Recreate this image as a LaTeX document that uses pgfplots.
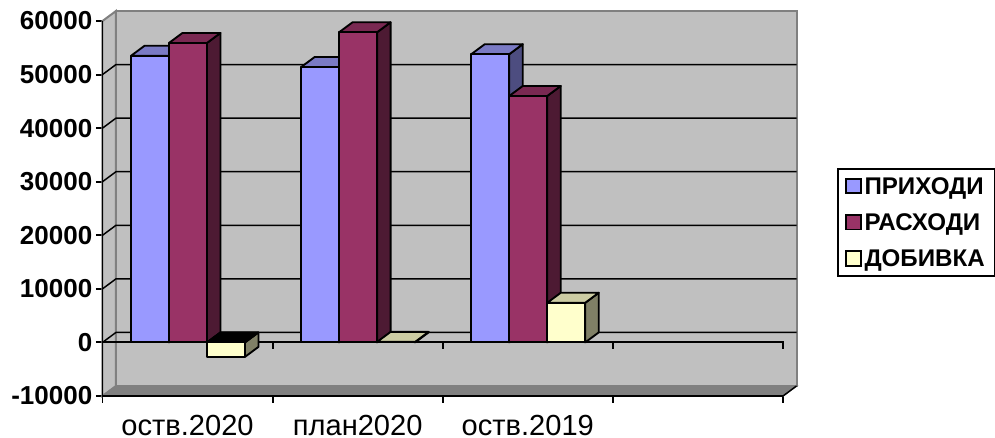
\documentclass[border=0pt]{standalone}
\usepackage{fontspec}
\setmainfont{Liberation Sans}
\usepackage{pgfplots}
\pgfplotsset{compat=1.18}

\definecolor{wallc}{HTML}{C0C0C0}
\definecolor{floorc}{HTML}{808080}
\definecolor{bluef}{HTML}{9999FF}
\definecolor{bluet}{HTML}{7A7AC4}
\definecolor{blues}{HTML}{4D4D80}
\definecolor{redf}{HTML}{993366}
\definecolor{redt}{HTML}{7A2952}
\definecolor{reds}{HTML}{4D1A33}
\definecolor{yelf}{HTML}{FFFFCC}
\definecolor{yelt}{HTML}{CCCCA3}
\definecolor{yels}{HTML}{808066}

% depth of the fake 3D box, in data units (13.5px and 10px)
\def\dx{0.0793}
\def\dy{1869}
\def\bw{0.2233}

% x of left edge, value, front colour, top colour, side colour
\newcommand{\threedbar}[5]{%
  \edef\xb{\fpeval{#1+\bw}}%
  \edef\xc{\fpeval{#1+\dx}}%
  \edef\xd{\fpeval{#1+\bw+\dx}}%
  \edef\yt{\fpeval{max(#2,0)}}%
  \edef\ytt{\fpeval{max(#2,0)+\dy}}%
  \edef\yv{\fpeval{#2+\dy}}%
  \addplot[face,fill=#5] coordinates {(\xb,#2)(\xd,\yv)(\xd,\dy)(\xb,0)} --cycle;
  \addplot[face,fill=#4] coordinates {(#1,\yt)(\xc,\ytt)(\xd,\ytt)(\xb,\yt)} --cycle;
  \addplot[face,fill=#3] coordinates {(#1,0)(#1,#2)(\xb,#2)(\xb,0)} --cycle;
}

\begin{document}
\begin{tikzpicture}[x=1pt,y=1pt]
\path[use as bounding box] (-76.875pt,-31.5pt) rectangle (669.375pt,297pt);
\begin{axis}[
  scale only axis,
  width=520.5pt,
  height=288.75pt,
  xmin=0, xmax=4.0793,
  ymin=-10000, ymax=61869,
  clip=false,
  axis line style={draw=none},
  xtick={0,1,2,3,4},
  xticklabels={оств.2020,план2020,оств.2019,},
  x tick label as interval,
  ytick={-10000,0,10000,20000,30000,40000,50000,60000},
  scaled y ticks=false,
  xtick pos=lower, ytick pos=left,
  tick align=outside,
  major tick length=5pt,
  tick style={black,line width=1.4pt},
  /pgf/number format/assume math mode=true,
  /pgf/number format/1000 sep={},
  y tick label style={font=\fontsize{19.5}{19.5}\selectfont\bfseries,inner sep=0pt,xshift=-2.5pt},
  x tick label style={font=\fontsize{21.8}{21.8}\selectfont,inner sep=0pt,yshift=-9.5pt},
  face/.style={draw=black,line width=1.4pt,line join=round,forget plot},
  legend cell align=left,
  legend style={
    at={(axis cs:4.3175,12150)},anchor=south west,
    draw=black,line width=1.4pt,fill=white,
    font=\fontsize{18.1}{18.1}\selectfont\bfseries,
    inner xsep=5.5pt,inner ysep=4pt,
    row sep=9pt,
    /tikz/every even column/.append style={column sep=6pt},
  },
  legend image code/.code={
    \draw[#1,line width=1.4pt] (0pt,-5pt) rectangle (11pt,6pt);
  },
]
  % walls and floor
  \addplot[fill=wallc,draw=floorc,line width=1.5pt,forget plot] coordinates {(0,-10000)(0,60000)(\dx,61869)(\dx,-8131)} --cycle;
  \addplot[fill=wallc,draw=floorc,line width=1.5pt,forget plot] coordinates {(\dx,-8131)(\dx,61869)(4.0793,61869)(4.0793,-8131)} --cycle;
  \addplot[fill=floorc,draw=floorc,line width=1pt,forget plot] coordinates {(0,-10000)(\dx,-8131)(4.0793,-8131)(4,-10000)} --cycle;

  % gridlines, back wall and side wall
  \addplot[black,line width=1.1pt,forget plot] coordinates {(0,10000)(\dx,11869)(4.0793,11869)};
  \addplot[black,line width=1.1pt,forget plot] coordinates {(0,20000)(\dx,21869)(4.0793,21869)};
  \addplot[black,line width=1.1pt,forget plot] coordinates {(0,30000)(\dx,31869)(4.0793,31869)};
  \addplot[black,line width=1.1pt,forget plot] coordinates {(0,40000)(\dx,41869)(4.0793,41869)};
  \addplot[black,line width=1.1pt,forget plot] coordinates {(0,50000)(\dx,51869)(4.0793,51869)};
  \addplot[black,line width=1.1pt,forget plot] coordinates {(0,0)(\dx,1869)(4.0793,1869)};
  \addplot[black,line width=1.1pt,forget plot] coordinates {(4,-10000)(4.0793,-8131)};

  % front axes
  \addplot[black,line width=1.4pt,forget plot] coordinates {(0,-10000)(0,60000)};
  \addplot[black,line width=1.4pt,forget plot] coordinates {(0,-10000)(4,-10000)};
  \addplot[black,line width=1.4pt,forget plot] coordinates {(0,0)(4,0)(4,-1300)};
  \addplot[black,line width=1.4pt,forget plot] coordinates {(1,0)(1,-1300)};
  \addplot[black,line width=1.4pt,forget plot] coordinates {(2,0)(2,-1300)};
  \addplot[black,line width=1.4pt,forget plot] coordinates {(3,0)(3,-1300)};

  % bars
  \threedbar{0.1675}{53500}{bluef}{bluet}{blues}
  \threedbar{0.3908}{55900}{redf}{redt}{reds}
  \threedbar{0.6141}{-2700}{yelf}{black}{yels}

  \threedbar{1.1675}{51400}{bluef}{bluet}{blues}
  \threedbar{1.3908}{57900}{redf}{redt}{reds}
  \threedbar{1.6141}{100}{yelf}{yelt}{yels}

  \threedbar{2.1675}{53800}{bluef}{bluet}{blues}
  \threedbar{2.3908}{46000}{redf}{redt}{reds}
  \threedbar{2.6141}{7400}{yelf}{yelt}{yels}

  \addlegendimage{fill=bluef,draw=black}
  \addlegendentry{ПРИХОДИ\hspace{12pt}}
  \addlegendimage{fill=redf,draw=black}
  \addlegendentry{РАСХОДИ}
  \addlegendimage{fill=yelf,draw=black}
  \addlegendentry{ДОБИВКА}
\end{axis}
\end{tikzpicture}
\end{document}
